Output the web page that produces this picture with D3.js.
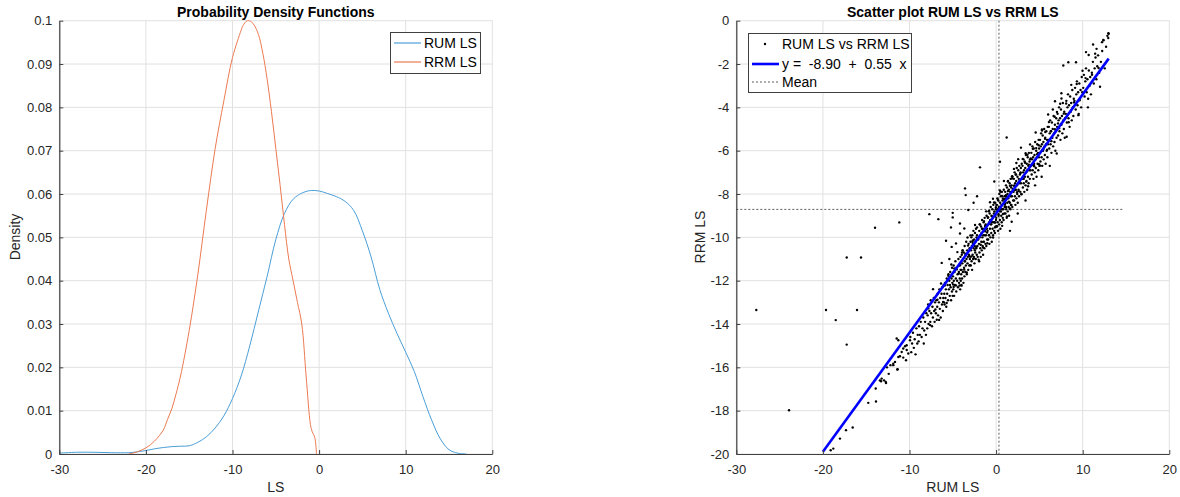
<!DOCTYPE html>
<html><head><meta charset="utf-8">
<script src="https://cdn.jsdelivr.net/npm/d3@7"></script>
<style>
html,body{margin:0;padding:0;background:#fff;}
svg text{font-family:Arial,"Liberation Sans",Helvetica,sans-serif;}
</style></head><body>
<svg id="fig" width="1180" height="497"></svg>
<script>
// ---- Kernel density estimates ----
const rumX = [-30,-28,-26,-24,-22,-21,-20,-19,-18,-17,-16,-15,-14,-13,-12,-11,-10,-9,-8,-7,-6,-5,-4,-3,-2,-1,0,1,2,3,4,5,6,7,8,9,10,11,12,13,14,15,16,17];
const rumDensity = [0.0002,0.0004,0.0004,0.0003,0.0003,0.0005,0.0008,0.0012,0.0015,0.0017,0.0018,0.0019,0.0027,0.0040,0.0060,0.0088,0.0128,0.0180,0.0250,0.0330,0.0410,0.0495,0.0555,0.0588,0.0602,0.0608,0.0607,0.0601,0.0594,0.0583,0.0562,0.0515,0.0455,0.0380,0.0325,0.0278,0.0235,0.0190,0.0132,0.0078,0.0035,0.0010,0.0002,0];
const rrmX = [-22,-21.5,-21,-20,-19,-18,-17.5,-17,-16.5,-16,-15,-14,-13,-12,-11,-10,-9,-8.8,-8.3,-7.8,-7.5,-7,-6.5,-6,-5.5,-5,-4.5,-4,-3.5,-3,-2.5,-2,-1.5,-1,-0.8,-0.5,-0.3];
const rrmDensity = [0,0.0002,0.0005,0.0014,0.0030,0.0055,0.0080,0.0105,0.0140,0.0180,0.0285,0.0415,0.0565,0.0705,0.0815,0.0915,0.0978,0.0988,0.1000,0.0997,0.0990,0.0968,0.0925,0.0865,0.0790,0.0705,0.0620,0.0530,0.0450,0.0400,0.0350,0.0300,0.0180,0.0068,0.0052,0.0038,0];
const densitySeries = ["RUM LS","RRM LS"];
const densityXTicks = [-30,-20,-10,0,10,20];
const densityXLabels = ["-30","-20","-10","0","10","20"];
const densityYTicks = [0,0.01,0.02,0.03,0.04,0.05,0.06,0.07,0.08,0.09,0.1];
const densityYLabels = ["0","0.01","0.02","0.03","0.04","0.05","0.06","0.07","0.08","0.09","0.1"];

// ---- Scatter: [RUM LS, RRM LS] per respondent ----
const scatterPoints = [
[-27.69,-13.35],[-23.91,-17.98],[-19.64,-13.35],[-18.52,-13.82],[-17.25,-10.93],[-15.6,-10.93],[-16.06,-13.35],[-17.25,-14.95],
[-13.98,-9.56],[-11.18,-9.31],[-7.71,-8.93],[-6.67,-9.16],[-5.01,-8.87],[-5.01,-9.08],[-5.21,-9.54],[-4.17,-9.36],[-3.67,-9.59],[-4.17,-9.82],
[-5.78,-10.16],[-4.63,-10.28],[-5.13,-10.44],[-6.28,-11.18],[-5.4,-11.0],[-3.21,-8.74],[-1.86,-6.77],[-3.59,-7.74],[-3.51,-8.05],[-2.6,-8.4],[-2.2,-8.1],
[-16.56,-18.78],[-17.33,-18.9],[-18.03,-19.29],[-18.8,-19.75],[-19.1,-19.83],
[-14.76,-17.64],[-13.87,-17.58],[-13.9,-16.98],[-13.41,-16.6],[-13.21,-16.52],[-12.94,-16.6],[-12.71,-16.72],[-13.29,-16.64],[-12.75,-16.67],[-12.4,-16.3],[-12.2,-15.9],[-12.6,-16.0],
[-11.48,-14.67],[-11.29,-14.75],[-10.9,-15.29],[-10.72,-15.13],[-10.52,-15.03],[-10.32,-15.2],[-10.14,-15.36],[-11.1,-15.49],[-10.72,-15.55],[-10.4,-15.67],[-11.67,-15.75],[-11.87,-15.9],[-11.41,-16.1],[-11.37,-16.09],[-10.33,-14.98],[-9.94,-14.75],[-11.87,-15.83],[-11.29,-15.52],
[-9.9,-14.6],[-9.8,-15.3],[-9.7,-14.9],[-9.6,-14.4],[-9.5,-15.1],[-9.4,-14.7],[-9.3,-15.4],[-9.2,-14.2],[-9.1,-14.9],[-9.05,-14.5],
[-8.95,-14.8],[-8.9,-14.1],[-8.8,-14.5],[-8.7,-13.9],[-8.6,-14.6],[-8.5,-14.2],[-8.4,-13.7],[-8.35,-14.9],[-8.3,-14.3],[-8.2,-13.9],[-8.1,-14.5],[-8.05,-13.5],
[-7.95,-14.2],[-7.9,-13.6],[-7.85,-13.1],[-7.8,-14.0],[-7.7,-13.4],[-7.6,-13.9],[-7.55,-12.9],[-7.5,-13.5],[-7.4,-14.1],[-7.35,-13.2],[-7.3,-13.7],[-7.2,-12.8],[-7.15,-13.4],[-7.1,-13.9],[-7.05,-13.0],
[-6.95,-13.5],[-6.9,-12.9],[-6.85,-13.8],[-6.8,-13.2],[-6.75,-12.6],[-6.7,-13.6],[-6.6,-13.0],[-6.55,-12.4],[-6.5,-13.3],[-6.45,-12.8],[-6.4,-13.7],[-6.3,-12.6],[-6.25,-13.1],[-6.2,-12.3],[-6.15,-13.4],[-6.1,-12.8],[-6.05,-12.2],[-6.02,-13.0],
[-5.98,-12.6],[-5.95,-13.1],[-5.9,-12.1],[-5.85,-12.8],[-5.8,-12.4],[-5.75,-13.2],[-5.7,-11.9],[-5.65,-12.6],[-5.6,-12.2],[-5.55,-12.9],[-5.5,-11.7],[-5.45,-12.4],[-5.4,-12.0],[-5.35,-12.7],[-5.3,-11.6],[-5.25,-12.3],[-5.2,-12.9],[-5.15,-11.9],[-5.1,-12.5],[-5.08,-11.4],[-5.05,-12.1],[-5.02,-12.7],
[-4.98,-11.8],[-4.95,-12.4],[-4.9,-11.3],[-4.88,-12.0],[-4.85,-12.7],[-4.8,-11.6],[-4.75,-12.2],[-4.7,-11.1],[-4.65,-11.9],[-4.6,-12.5],[-4.55,-11.4],[-4.5,-12.0],[-4.45,-11.7],[-4.4,-12.3],[-4.35,-11.0],[-4.3,-11.6],[-4.28,-12.1],[-4.25,-11.3],[-4.2,-11.9],[-4.15,-12.4],[-4.12,-10.9],[-4.1,-11.5],[-4.08,-12.0],[-4.05,-11.2],[-4.03,-11.7],[-4.01,-12.2],
[-3.98,-11.5],[-3.96,-10.8],[-3.93,-11.9],[-3.9,-11.2],[-3.87,-10.6],[-3.84,-11.6],[-3.8,-11.0],[-3.77,-12.1],[-3.74,-10.7],[-3.7,-11.4],[-3.66,-11.8],[-3.63,-10.4],[-3.6,-11.1],[-3.56,-11.6],[-3.52,-10.8],[-3.49,-11.3],[-3.45,-10.2],[-3.42,-11.0],[-3.38,-11.7],[-3.34,-10.6],[-3.3,-11.2],[-3.26,-10.9],[-3.22,-11.5],[-3.18,-10.3],[-3.14,-10.8],[-3.1,-11.3],[-3.06,-10.5],[-3.03,-11.0],
[-2.98,-10.9],[-2.95,-10.2],[-2.92,-11.3],[-2.89,-10.6],[-2.86,-10.0],[-2.83,-11.1],[-2.8,-10.4],[-2.77,-11.5],[-2.74,-9.9],[-2.71,-10.8],[-2.68,-10.3],[-2.65,-11.0],[-2.62,-9.7],[-2.59,-10.5],[-2.56,-10.9],[-2.53,-10.1],[-2.5,-11.2],[-2.47,-10.4],[-2.44,-9.8],[-2.41,-10.7],[-2.38,-10.2],[-2.35,-11.0],[-2.32,-9.6],[-2.29,-10.5],[-2.26,-10.0],[-2.23,-10.8],[-2.2,-9.9],[-2.16,-10.4],[-2.12,-10.9],[-2.06,-10.1],
[-1.98,-10.3],[-1.95,-9.7],[-1.92,-10.7],[-1.89,-10.0],[-1.86,-9.4],[-1.83,-10.5],[-1.8,-9.9],[-1.77,-10.9],[-1.74,-9.5],[-1.71,-10.2],[-1.68,-9.8],[-1.65,-10.6],[-1.62,-9.2],[-1.59,-10.0],[-1.56,-10.4],[-1.53,-9.6],[-1.5,-10.8],[-1.47,-9.9],[-1.44,-9.3],[-1.41,-10.2],[-1.38,-9.7],[-1.35,-10.5],[-1.32,-9.1],[-1.29,-9.9],[-1.26,-9.5],[-1.23,-10.3],[-1.2,-9.4],[-1.17,-9.9],[-1.13,-10.4],[-1.1,-9.0],[-1.06,-9.6],[-1.03,-10.1],
[-0.98,-9.7],[-0.95,-9.1],[-0.92,-10.1],[-0.89,-9.4],[-0.86,-8.8],[-0.83,-9.9],[-0.8,-9.3],[-0.77,-10.3],[-0.74,-8.9],[-0.71,-9.6],[-0.68,-9.2],[-0.65,-10.0],[-0.62,-8.6],[-0.59,-9.4],[-0.56,-9.8],[-0.53,-9.0],[-0.5,-10.2],[-0.47,-9.3],[-0.44,-8.7],[-0.41,-9.6],[-0.38,-9.1],[-0.35,-9.9],[-0.32,-8.5],[-0.29,-9.3],[-0.26,-8.9],[-0.23,-9.7],[-0.2,-8.8],[-0.17,-9.3],[-0.14,-9.8],[-0.11,-8.4],[-0.08,-9.0],[-0.05,-9.5],[-0.03,-8.7],[-0.01,-9.2],
[0.02,-9.1],[0.05,-8.5],[0.08,-9.5],[0.11,-8.8],[0.14,-8.2],[0.17,-9.3],[0.2,-8.7],[0.23,-9.7],[0.26,-8.3],[0.29,-9.0],[0.32,-8.6],[0.35,-9.4],[0.38,-8.0],[0.41,-8.8],[0.44,-9.2],[0.47,-8.4],[0.5,-9.6],[0.53,-8.7],[0.56,-8.1],[0.59,-9.0],[0.62,-8.5],[0.65,-9.3],[0.68,-7.9],[0.71,-8.7],[0.74,-8.3],[0.77,-9.1],[0.8,-8.2],[0.83,-8.7],[0.86,-9.2],[0.89,-7.8],[0.92,-8.4],[0.95,-8.9],[0.97,-8.1],[0.99,-8.6],
[1.02,-8.5],[1.05,-7.9],[1.08,-8.9],[1.11,-8.2],[1.14,-7.6],[1.17,-8.7],[1.2,-8.1],[1.23,-9.1],[1.26,-7.7],[1.29,-8.4],[1.32,-8.0],[1.35,-8.8],[1.38,-7.4],[1.41,-8.2],[1.44,-8.6],[1.47,-7.8],[1.5,-9.0],[1.53,-8.1],[1.56,-7.5],[1.59,-8.4],[1.62,-7.9],[1.65,-8.7],[1.68,-7.3],[1.71,-8.1],[1.74,-7.7],[1.77,-8.5],[1.8,-7.6],[1.83,-8.1],[1.87,-8.6],[1.9,-7.2],[1.94,-7.8],[1.97,-8.3],
[2.02,-7.9],[2.05,-7.3],[2.08,-8.3],[2.11,-7.6],[2.14,-7.0],[2.17,-8.1],[2.2,-7.5],[2.23,-8.5],[2.26,-7.1],[2.29,-7.8],[2.32,-7.4],[2.35,-8.2],[2.38,-6.8],[2.41,-7.6],[2.44,-8.0],[2.47,-7.2],[2.5,-8.4],[2.53,-7.5],[2.56,-6.9],[2.59,-7.8],[2.62,-7.3],[2.65,-8.1],[2.68,-6.7],[2.71,-7.5],[2.75,-7.1],[2.79,-7.9],[2.83,-7.0],[2.87,-7.5],[2.92,-8.0],[2.96,-6.6],
[3.02,-7.3],[3.05,-6.7],[3.09,-7.7],[3.12,-7.0],[3.16,-6.4],[3.19,-7.5],[3.23,-6.9],[3.26,-7.9],[3.3,-6.5],[3.33,-7.2],[3.37,-6.8],[3.4,-7.6],[3.44,-6.2],[3.47,-7.0],[3.51,-7.4],[3.54,-6.6],[3.58,-7.8],[3.61,-6.9],[3.65,-6.3],[3.68,-7.2],[3.72,-6.7],[3.75,-7.5],[3.79,-6.1],[3.82,-6.9],[3.86,-6.5],[3.9,-7.3],[3.93,-6.4],[3.97,-6.9],
[4.03,-6.7],[4.07,-6.1],[4.11,-7.1],[4.15,-6.4],[4.19,-5.8],[4.23,-6.9],[4.27,-6.3],[4.31,-7.3],[4.35,-5.9],[4.39,-6.6],[4.43,-6.2],[4.47,-7.0],[4.51,-5.6],[4.55,-6.4],[4.59,-6.8],[4.63,-6.0],[4.67,-7.2],[4.71,-6.3],[4.75,-5.7],[4.79,-6.6],[4.83,-6.1],[4.87,-6.9],[4.91,-5.5],[4.94,-6.3],[4.97,-5.9],[4.99,-6.7],
[5.03,-6.1],[5.07,-5.5],[5.12,-6.5],[5.16,-5.8],[5.2,-5.2],[5.25,-6.3],[5.29,-5.7],[5.33,-6.7],[5.38,-5.3],[5.42,-6.0],[5.46,-5.6],[5.5,-6.4],[5.55,-5.0],[5.59,-5.8],[5.63,-6.2],[5.67,-5.4],[5.72,-6.6],[5.76,-5.7],[5.8,-5.1],[5.84,-6.0],[5.88,-5.5],[5.92,-6.3],[5.96,-4.9],[5.99,-5.7],
[6.04,-5.5],[6.09,-4.9],[6.14,-5.9],[6.19,-5.2],[6.24,-4.6],[6.29,-5.7],[6.34,-5.1],[6.39,-6.1],[6.44,-4.7],[6.49,-5.4],[6.54,-5.0],[6.59,-5.8],[6.64,-4.4],[6.69,-5.2],[6.74,-5.6],[6.79,-4.8],[6.84,-6.0],[6.89,-5.1],[6.94,-4.5],[6.98,-5.4],
[7.04,-4.9],[7.1,-4.3],[7.16,-5.3],[7.21,-4.6],[7.27,-4.0],[7.32,-5.1],[7.38,-4.5],[7.43,-5.5],[7.49,-4.1],[7.54,-4.8],[7.6,-4.4],[7.65,-5.2],[7.71,-3.8],[7.76,-4.6],[7.82,-5.0],[7.87,-4.2],[7.93,-5.4],[7.97,-4.5],
[8.05,-4.3],[8.11,-3.7],[8.17,-4.7],[8.24,-4.0],[8.3,-3.4],[8.36,-4.5],[8.42,-3.9],[8.49,-4.9],[8.55,-3.5],[8.61,-4.2],[8.67,-3.8],[8.74,-4.6],[8.8,-3.2],[8.86,-4.0],[8.92,-4.4],[8.97,-3.6],
[9.05,-3.7],[9.12,-3.1],[9.19,-4.1],[9.26,-3.4],[9.33,-2.8],[9.4,-3.9],[9.47,-3.3],[9.54,-4.3],[9.61,-2.9],[9.68,-3.6],[9.75,-3.2],[9.82,-4.0],[9.89,-2.6],[9.95,-3.3],
[10.06,-3.1],[10.14,-2.5],[10.22,-3.5],[10.3,-2.8],[10.38,-2.2],[10.46,-3.3],[10.55,-2.7],[10.63,-3.6],[10.71,-2.3],[10.79,-3.0],[10.87,-2.6],[10.95,-3.4],
[11.08,-2.5],[11.18,-1.9],[11.28,-2.9],[11.38,-2.2],[11.48,-1.7],[11.58,-2.7],[11.68,-2.1],[11.78,-1.6],[11.9,-2.4],
[12.1,-1.9],[12.25,-1.4],[12.4,-0.9],[12.55,-2.2],[12.7,-1.2],[12.85,-0.7],[13.0,-0.6],[12.95,-0.8],
[7.76,-2.07],[8.34,-1.92],[9.23,-1.92],[10.38,-1.45],[12.38,-0.89],[12.96,-0.58],[11.2,-1.1],[11.6,-1.3],[1.22,-5.39],[-0.21,-7.42],[0.45,-6.51],[2.87,-5.86],[6.8,-3.72],[7.4,-3.83],
[5.26,-7.2],[7.0,-6.13],[8.15,-5.36],[9.5,-4.36],[12.0,-3.05],[4.5,-7.6],[3.4,-8.3],[6.2,-6.7],[10.6,-4.0],[2.5,-8.9],[1.8,-9.28],[1.6,-9.7],
[-7.83,-13.28],[-7.62,-14.05],[-7.28,-12.39],[-7.01,-13.33],[-6.77,-12.88],[-6.58,-13.81],[-6.36,-12.13],[-6.12,-12.98],[-5.93,-12.22],[-5.71,-13.03],[-5.52,-11.77],[-5.33,-12.2],[-5.17,-11.25],[-4.96,-12.18],[-4.82,-11.44],[-4.63,-12.22],[-4.47,-10.68],[-4.31,-11.68],[-4.16,-11.29],[-3.99,-12.23],
[-3.85,-10.6],[-3.68,-11.49],[-3.54,-10.76],[-3.39,-11.62],[-3.24,-10.38],[-3.11,-10.85],[-2.97,-9.91],[-2.84,-10.88],[-2.69,-10.14],[-2.57,-10.97],[-2.43,-9.43],[-2.28,-10.44],[-2.14,-10.06],[-2.02,-11.03],[-1.9,-9.41],[-1.78,-10.34],[-1.64,-9.6],[-1.51,-10.47],[-1.4,-9.25],[-1.27,-9.72],
[-1.15,-8.8],[-1.04,-9.78],[-0.93,-9.07],[-0.81,-9.89],[-0.7,-8.38],[-0.58,-9.4],[-0.46,-9.03],[-0.35,-10.01],[-0.24,-8.39],[-0.12,-9.32],[-0.02,-8.61],[0.1,-9.49],[0.21,-8.27],[0.33,-8.75],[0.44,-7.83],[0.56,-8.81],[0.67,-8.09],[0.79,-8.92],[0.9,-7.4],[1.02,-8.43],
[1.13,-8.06],[1.25,-9.04],[1.36,-7.42],[1.48,-8.35],[1.6,-7.62],[1.71,-8.51],[1.83,-7.28],[1.94,-7.77],[2.06,-6.84],[2.18,-7.82],[2.3,-7.1],[2.42,-7.92],[2.55,-6.39],[2.67,-7.42],[2.8,-7.04],[2.93,-8.01],[3.07,-6.38],[3.2,-7.3],[3.34,-6.56],[3.48,-7.43],
[3.62,-6.19],[3.77,-6.65],[3.92,-5.71],[4.08,-6.66],[4.24,-5.91],[4.4,-6.72],[4.57,-5.16],[4.74,-6.16],[4.92,-5.75],[5.1,-6.69],[5.29,-5.02],[5.48,-5.91],[5.68,-5.14],[5.89,-5.96],[6.1,-4.68],[6.32,-5.1],[6.55,-4.1],[6.79,-5.01],[7.03,-4.21],[7.28,-4.96],
[7.54,-3.35],[7.81,-4.29],[8.09,-3.82],[8.38,-4.69],[8.68,-2.96],[8.99,-3.77],[9.31,-2.92],[9.64,-3.67],[9.98,-2.31],[10.33,-2.65],[10.69,-1.58],[11.06,-2.4],[11.44,-1.52],[11.83,-2.18],[12.23,-0.99],
[-4.9,-12.29],[-4.55,-11.48],[-4.22,-12.22],[-3.93,-10.7],[-3.61,-11.1],[-3.3,-10.01],[-3.0,-11.28],[-2.72,-10.21],[-2.45,-10.59],[-2.2,-9.54],[-1.96,-11.1],[-1.72,-9.85],[-1.49,-10.21],[-1.25,-9.46],[-1.02,-10.27],[-0.79,-8.78],
[-0.57,-9.25],[-0.36,-8.22],[-0.14,-9.54],[0.07,-8.51],[0.28,-8.93],[0.49,-7.9],[0.7,-9.47],[0.92,-8.24],[1.14,-8.6],[1.37,-7.86],[1.6,-8.67],[1.84,-7.18],[2.09,-7.63],[2.34,-6.57],[2.6,-7.86],[2.86,-6.8],
[3.13,-7.19],[3.41,-6.12],[3.7,-7.64],[4.0,-6.36],[4.31,-6.67],[4.63,-5.88],[4.96,-6.62],[5.3,-5.07],[5.65,-5.45],[6.01,-4.33],[6.38,-5.56],[6.76,-4.43],[7.15,-4.74],[7.55,-3.59]
];
const meanRUM = 0.33;
const meanRRM = -8.71;
const regIntercept = -8.90;
const regSlope = 0.55;
const fitRange = [-20, 13];
const scatterXTicks = [-30,-20,-10,0,10,20];
const scatterXLabels = ["-30","-20","-10","0","10","20"];
const scatterYTicks = [0,-2,-4,-6,-8,-10,-12,-14,-16,-18,-20];
const scatterYLabels = ["0","-2","-4","-6","-8","-10","-12","-14","-16","-18","-20"];

const BLUE = "#4a9fd8", ORANGE = "#ec7a52", AXIS = "#404040", TXT = "#262626", GRID = "#e1e1e1";

const svg = d3.select("#fig");

function drawGrid(g, x, y, xt, yt) {
  g.append("g").selectAll("line").data(xt).join("line")
    .attr("x1", d => x(d)).attr("x2", d => x(d))
    .attr("y1", y.range()[0]).attr("y2", y.range()[1])
    .attr("stroke", GRID).attr("stroke-width", 1);
  g.append("g").selectAll("line").data(yt).join("line")
    .attr("y1", d => y(d)).attr("y2", d => y(d))
    .attr("x1", x.range()[0]).attr("x2", x.range()[1])
    .attr("stroke", GRID).attr("stroke-width", 1);
}

function drawAxes(g, x, y, xt, xl, yt, yl) {
  const ax = g.append("g").attr("transform", `translate(0,${y.range()[0]})`)
    .call(d3.axisBottom(x).tickValues(xt).tickFormat((d, i) => xl[i])
      .tickSizeInner(-4).tickSizeOuter(0).tickPadding(11));
  const ay = g.append("g").attr("transform", `translate(${x.range()[0]},0)`)
    .call(d3.axisLeft(y).tickValues(yt).tickFormat((d, i) => yl[i])
      .tickSizeInner(-4).tickSizeOuter(0).tickPadding(7));
  [ax, ay].forEach(a => {
    a.select(".domain").attr("stroke", AXIS).attr("stroke-width", 1.2);
    a.selectAll(".tick line").attr("stroke", AXIS);
    a.selectAll(".tick text").attr("fill", TXT).attr("font-size", 13)
      .attr("font-family", "Arial, 'Liberation Sans', sans-serif");
  });
}

// ================= Left panel: densities =================
const xL = d3.scaleLinear().domain([-30, 20]).range([59.3, 492.3]);
const yL = d3.scaleLinear().domain([0, 0.1]).range([454, 20.7]);
const gL = svg.append("g");
drawGrid(gL, xL, yL, densityXTicks, densityYTicks);

const dLine = d3.line().x(d => xL(d[0])).y(d => yL(Math.max(0, d[1]))).curve(d3.curveCatmullRom.alpha(0.5));
const rumPts = rumX.map((v, i) => [v, rumDensity[i]]);
const rrmPts = rrmX.map((v, i) => [v, rrmDensity[i]]);
gL.append("path").attr("d", dLine(rumPts)).attr("fill", "none").attr("stroke", BLUE).attr("stroke-width", 1);
gL.append("path").attr("d", dLine(rrmPts)).attr("fill", "none").attr("stroke", ORANGE).attr("stroke-width", 1);

drawAxes(gL, xL, yL, densityXTicks, densityXLabels, densityYTicks, densityYLabels);

gL.append("text").attr("x", (xL.range()[0] + xL.range()[1]) / 2).attr("y", 17)
  .attr("text-anchor", "middle").attr("font-size", 14).attr("font-weight", "bold").attr("fill", "#000")
  .text("Probability Density Functions");
gL.append("text").attr("x", (xL.range()[0] + xL.range()[1]) / 2).attr("y", 492)
  .attr("text-anchor", "middle").attr("font-size", 14).attr("fill", TXT).text("LS");
gL.append("text").attr("transform", "translate(20,237) rotate(-90)")
  .attr("text-anchor", "middle").attr("font-size", 14).attr("fill", TXT).text("Density");

// legend
const lgL = gL.append("g");
lgL.append("rect").attr("x", 390.5).attr("y", 32.5).attr("width", 90).attr("height", 41)
  .attr("fill", "#fff").attr("stroke", AXIS).attr("stroke-width", 1);
[BLUE, ORANGE].forEach((c, i) => {
  const yy = 43 + i * 19;
  lgL.append("line").attr("x1", 394).attr("x2", 421).attr("y1", yy).attr("y2", yy)
    .attr("stroke", c).attr("stroke-width", 1.2);
  lgL.append("text").attr("x", 424).attr("y", yy + 5).attr("font-size", 14).attr("fill", "#000")
    .text(densitySeries[i]);
});

// ================= Right panel: scatter =================
const xR = d3.scaleLinear().domain([-30, 20]).range([736.3, 1169.3]);
const yR = d3.scaleLinear().domain([-20, 0]).range([454, 20.7]);
const gR = svg.append("g");
drawGrid(gR, xR, yR, scatterXTicks, scatterYTicks);

// mean reference lines
gR.append("line").attr("x1", xR(meanRUM)).attr("x2", xR(meanRUM)).attr("y1", yR(0)).attr("y2", yR(-20))
  .attr("stroke", "#333").attr("stroke-width", 0.8).attr("stroke-dasharray", "2,2");
gR.append("line").attr("x1", xR(-30)).attr("x2", xR(d3.max(scatterPoints, d => d[0]) + 1.8)).attr("y1", yR(meanRRM)).attr("y2", yR(meanRRM))
  .attr("stroke", "#333").attr("stroke-width", 0.8).attr("stroke-dasharray", "2,2");

gR.append("g").selectAll("circle").data(scatterPoints).join("circle")
  .attr("cx", d => xR(d[0])).attr("cy", d => yR(d[1])).attr("r", 1.2).attr("fill", "#000");

const fitLine = d3.line().x(d => xR(d)).y(d => yR(regIntercept + regSlope * d));
gR.append("path").attr("d", fitLine(fitRange)).attr("fill", "none").attr("stroke", "#0000ff").attr("stroke-width", 2.6);

drawAxes(gR, xR, yR, scatterXTicks, scatterXLabels, scatterYTicks, scatterYLabels);

gR.append("text").attr("x", (xR.range()[0] + xR.range()[1]) / 2).attr("y", 17)
  .attr("text-anchor", "middle").attr("font-size", 14).attr("font-weight", "bold").attr("fill", "#000")
  .text("Scatter plot RUM LS vs RRM LS");
gR.append("text").attr("x", (xR.range()[0] + xR.range()[1]) / 2).attr("y", 492)
  .attr("text-anchor", "middle").attr("font-size", 14).attr("fill", TXT).text("RUM LS");
gR.append("text").attr("transform", "translate(705,237) rotate(-90)")
  .attr("text-anchor", "middle").attr("font-size", 14).attr("fill", TXT).text("RRM LS");

// legend
const lgR = gR.append("g");
lgR.append("rect").attr("x", 748.5).attr("y", 33.5).attr("width", 163).attr("height", 59)
  .attr("fill", "#fff").attr("stroke", AXIS).attr("stroke-width", 1);
lgR.append("circle").attr("cx", 765).attr("cy", 44).attr("r", 1.2).attr("fill", "#000");
lgR.append("text").attr("x", 782).attr("y", 49).attr("font-size", 14).attr("fill", "#000").text("RUM LS vs RRM LS");
lgR.append("line").attr("x1", 752).attr("x2", 779).attr("y1", 64).attr("y2", 64)
  .attr("stroke", "#0000ff").attr("stroke-width", 2.6);
lgR.append("text").attr("x", 782).attr("y", 69).attr("font-size", 14).attr("fill", "#000")
  .style("white-space", "pre")
  .text(`y =  ${regIntercept.toFixed(2)}  +  ${regSlope.toFixed(2)}  x`);
lgR.append("line").attr("x1", 752).attr("x2", 779).attr("y1", 82).attr("y2", 82)
  .attr("stroke", "#333").attr("stroke-width", 0.8).attr("stroke-dasharray", "2,2");
lgR.append("text").attr("x", 782).attr("y", 87).attr("font-size", 14).attr("fill", "#000").text("Mean");
</script>
</body></html>
